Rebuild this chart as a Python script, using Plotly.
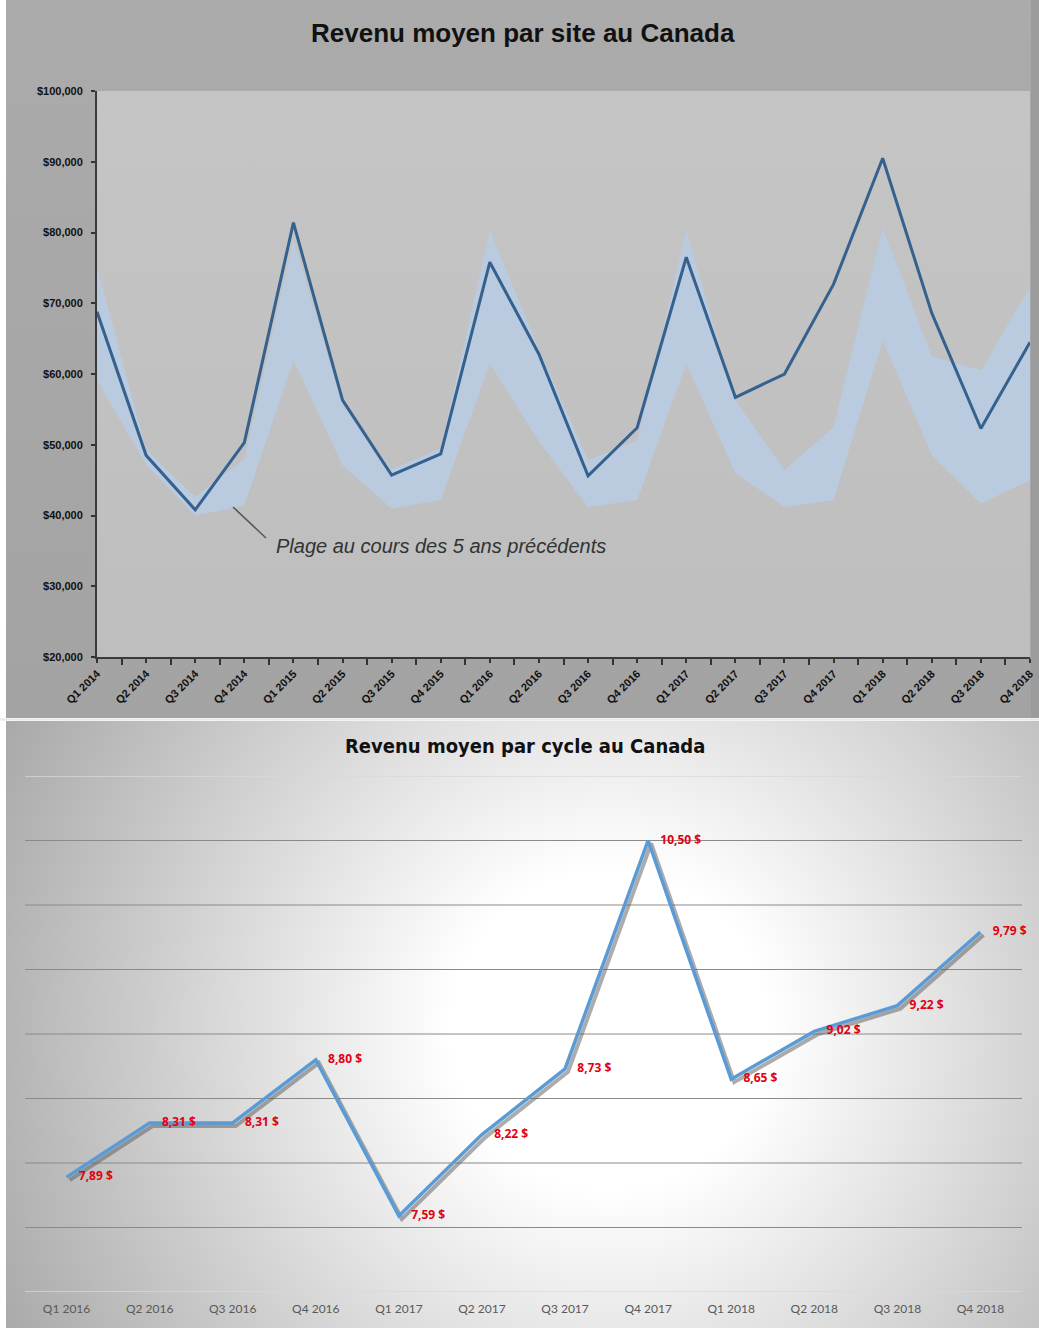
import base64
import plotly.graph_objects as go

W, H = 1039, 1328

# ---------------- data ----------------
quarters_top = ["Q1 2014", "Q2 2014", "Q3 2014", "Q4 2014",
                "Q1 2015", "Q2 2015", "Q3 2015", "Q4 2015",
                "Q1 2016", "Q2 2016", "Q3 2016", "Q4 2016",
                "Q1 2017", "Q2 2017", "Q3 2017", "Q4 2017",
                "Q1 2018", "Q2 2018", "Q3 2018", "Q4 2018"]
revenue_site = [68800, 48500, 40800, 50300, 81400, 56300, 45700, 48700,
                75800, 62800, 45600, 52400, 76500, 56700, 60000, 72700,
                90500, 68600, 52300, 64500]
range_high = [75200, 49300, 42600, 48000, 79000, 55600, 46500, 49500,
              80300, 63500, 47800, 50600, 80300, 56300, 46400, 52500,
              80700, 62500, 60500, 72300]
range_low = [59100, 47200, 40000, 41400, 62000, 47100, 41000, 42200,
             61500, 50500, 41200, 42200, 61500, 46000, 41200, 42200,
             64800, 48500, 41700, 45000]
y_ticks_top = [20000, 30000, 40000, 50000, 60000, 70000, 80000, 90000, 100000]
y_ticktext_top = ["$20,000", "$30,000", "$40,000", "$50,000", "$60,000",
                  "$70,000", "$80,000", "$90,000", "$100,000"]

quarters_bot = ["Q1 2016", "Q2 2016", "Q3 2016", "Q4 2016",
                "Q1 2017", "Q2 2017", "Q3 2017", "Q4 2017",
                "Q1 2018", "Q2 2018", "Q3 2018", "Q4 2018"]
revenue_cycle = [7.89, 8.31, 8.31, 8.80, 7.59, 8.22, 8.73, 10.50,
                 8.65, 9.02, 9.22, 9.79]
cycle_labels = [f"{v:.2f}".replace(".", ",") + " $" for v in revenue_cycle]
grid_bot = [7.5, 8.0, 8.5, 9.0, 9.5, 10.0, 10.5]
edge_bot = [7.0, 11.0]


def px_x(p):
    return p / W


def px_y(p):
    return 1 - p / H


# ---------------- background (SVG) ----------------
svg = f"""<svg xmlns='http://www.w3.org/2000/svg' width='{W}' height='{H}' viewBox='0 0 {W} {H}' preserveAspectRatio='none'>
<defs>
<linearGradient id='tg' x1='0' y1='0' x2='0' y2='1'><stop offset='0' stop-color='#ababab'/><stop offset='1' stop-color='#a3a3a3'/></linearGradient>
<linearGradient id='pg' x1='0' y1='0' x2='0' y2='1'><stop offset='0' stop-color='#c5c5c5'/><stop offset='1' stop-color='#bebebe'/></linearGradient>
<radialGradient id='bg' gradientUnits='userSpaceOnUse' cx='610' cy='1030' r='720'><stop offset='0' stop-color='#ffffff'/><stop offset='0.22' stop-color='#ffffff'/><stop offset='1' stop-color='#a2a2a2'/></radialGradient>
</defs>
<rect x='0' y='0' width='{W}' height='{H}' fill='#ffffff'/>
<rect x='6' y='0' width='1033' height='718' fill='url(#tg)'/>
<rect x='97' y='91' width='933' height='566' fill='url(#pg)'/>
<rect x='1031' y='0' width='8' height='718' fill='#9b9b9b'/>
<rect x='6' y='721' width='1033' height='607' fill='url(#bg)'/>
</svg>"""
svg_uri = "data:image/svg+xml;base64," + base64.b64encode(svg.encode()).decode()

fig = go.Figure()

# ---------------- top chart ----------------
xt = list(range(len(quarters_top)))
fig.add_trace(go.Scatter(x=xt, y=range_low, mode="lines", line=dict(width=0, color="rgba(0,0,0,0)"),
                         xaxis="x", yaxis="y", showlegend=False, hoverinfo="skip"))
fig.add_trace(go.Scatter(x=xt, y=range_high, mode="lines", line=dict(width=0, color="rgba(0,0,0,0)"),
                         fill="tonexty", fillcolor="rgb(186,203,224)",
                         xaxis="x", yaxis="y", showlegend=False, hoverinfo="skip"))
fig.add_trace(go.Scatter(x=xt, y=revenue_site, mode="lines", line=dict(width=3, color="#35618f"),
                         xaxis="x", yaxis="y", showlegend=False))

# ---------------- bottom chart ----------------
xb = list(range(len(quarters_bot)))
# shadow
fig.add_trace(go.Scatter(x=xb, y=revenue_cycle, mode="lines",
                         line=dict(width=4, color="rgba(90,90,90,0.5)"),
                         xaxis="x3", yaxis="y3", showlegend=False, hoverinfo="skip"))
fig.add_trace(go.Scatter(x=xb, y=revenue_cycle, mode="lines+markers+text",
                         line=dict(width=3.5, color="#5b9bd5"),
                         marker=dict(size=18, color="rgba(0,0,0,0)"),
                         text=cycle_labels, textposition="middle right",
                         textfont=dict(family="Liberation Sans Narrow, Open Sans, Liberation Sans",
                                       size=12, color="#e3000f", weight="bold"),
                         cliponaxis=False,
                         xaxis="x4", yaxis="y4", showlegend=False))

dom_x_top = [px_x(97), px_x(1030)]
dom_y_top = [px_y(657), px_y(91)]
dom_x_bot = [px_x(25), px_x(1022)]
dom_y_bot = [px_y(1292), px_y(776)]

sx = 3 / 83.1   # 3px shadow offset in data units
sy = 3 / 129.0

shapes = [
    dict(type="line", xref="paper", yref="paper",
         x0=px_x(233), y0=px_y(507), x1=px_x(266), y1=px_y(538),
         line=dict(color="#555555", width=1.5)),
    dict(type="line", xref="paper", yref="paper",
         x0=px_x(0), y0=px_y(719.5), x1=px_x(W), y1=px_y(719.5),
         line=dict(color="#e8e8e8", width=2)),
]
for v in grid_bot:
    shapes.append(dict(type="line", xref="x2 domain", yref="y2", x0=0, x1=1, y0=v, y1=v,
                       layer="below", line=dict(color="#8a8a8a", width=1)))
for v in edge_bot:
    shapes.append(dict(type="line", xref="x2 domain", yref="y2", x0=0, x1=1, y0=v, y1=v,
                       layer="below", line=dict(color="#d9d9d9", width=1.5)))

fig.update_layout(
    width=W, height=H,
    margin=dict(l=0, r=0, t=0, b=0, autoexpand=False),
    paper_bgcolor="white",
    plot_bgcolor="rgba(0,0,0,0)",
    images=[dict(source=svg_uri, xref="paper", yref="paper", x=0, y=1,
                 sizex=1, sizey=1, sizing="stretch", xanchor="left", yanchor="top",
                 layer="below")],
    xaxis=dict(domain=dom_x_top, anchor="y", range=[0, len(quarters_top) - 1], automargin=False,
               tickmode="array", tickvals=xt, ticktext=quarters_top, tickangle=-45,
               tickfont=dict(family="Liberation Sans", size=11, color="#111", weight="bold"),
               ticks="outside", ticklen=4, tickwidth=2, tickcolor="#333",
               minor=dict(tickmode="linear", tick0=0.5, dtick=1, ticks="outside",
                          ticklen=6, tickwidth=2, tickcolor="#333"),
               showline=True, linecolor="#3a3a3a", linewidth=2,
               showgrid=False, zeroline=False, fixedrange=True),
    yaxis=dict(domain=dom_y_top, anchor="x", range=[20000, 100000], automargin=False,
               tickmode="array", tickvals=y_ticks_top, ticktext=y_ticktext_top,
               tickfont=dict(family="Liberation Sans", size=11, color="#111", weight="bold"),
               ticks="outside", ticklen=4, tickwidth=2, tickcolor="#333",
               ticklabelstandoff=6,
               showline=True, linecolor="#3a3a3a", linewidth=2,
               showgrid=False, zeroline=False, fixedrange=True),
    xaxis2=dict(domain=dom_x_bot, anchor="y2", range=[-0.5, len(quarters_bot) - 0.5], automargin=False,
                tickmode="array", tickvals=xb, ticktext=quarters_bot,
                tickfont=dict(family="Lato, Open Sans", size=12, color="#595959"),
                ticks="", ticklabelstandoff=8,
                showline=False, showgrid=False, zeroline=False, fixedrange=True),
    yaxis2=dict(domain=dom_y_bot, anchor="x2", range=[7, 11], automargin=False,
                tickmode="array", tickvals=grid_bot, showticklabels=False, ticks="",
                showgrid=False, showline=False, zeroline=False, fixedrange=True),
    xaxis3=dict(domain=dom_x_bot, overlaying="x2", anchor="y3", automargin=False,
                range=[-0.5 - sx, len(quarters_bot) - 0.5 - sx],
                visible=False, fixedrange=True),
    yaxis3=dict(domain=dom_y_bot, overlaying="y2", anchor="x3", automargin=False,
                range=[7 + sy, 11 + sy], visible=False, fixedrange=True),
    xaxis4=dict(domain=dom_x_bot, overlaying="x2", anchor="y4", automargin=False,
                range=[-0.5, len(quarters_bot) - 0.5], visible=False, fixedrange=True),
    yaxis4=dict(domain=dom_y_bot, overlaying="y2", anchor="x4", automargin=False,
                range=[7, 11], visible=False, fixedrange=True),
    annotations=[
        dict(text="Revenu moyen par site au Canada", xref="paper", yref="paper",
             x=px_x(523), y=px_y(33), xanchor="center", yanchor="middle", showarrow=False,
             font=dict(family="Liberation Sans", size=26, color="#111", weight="bold")),
        dict(text="Plage au cours des 5 ans précédents", xref="paper", yref="paper",
             x=px_x(274), y=px_y(546), xanchor="left", yanchor="middle", showarrow=False,
             font=dict(family="Liberation Sans", size=20, color="#333", style="italic")),
        dict(text="Revenu moyen par cycle au Canada", xref="paper", yref="paper",
             x=px_x(525), y=px_y(746), xanchor="center", yanchor="middle", showarrow=False,
             font=dict(family="Liberation Sans Narrow, DejaVu Sans Condensed, Liberation Sans",
                       size=20, color="#111", weight="bold")),
    ],
    shapes=shapes,
)

fig.write_html("out.html",
               config={"displayModeBar": False},
               post_script="document.body.style.margin='0';document.body.style.overflow='hidden';")
